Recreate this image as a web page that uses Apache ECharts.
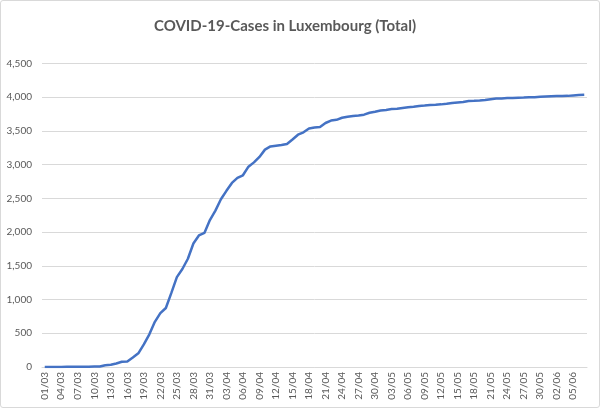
<!DOCTYPE html>
<html>
<head>
<meta charset="utf-8">
<script src="https://cdn.jsdelivr.net/npm/echarts@6/dist/echarts.min.js"></script>
<style>
  html, body { margin: 0; padding: 0; background: #fff; }
  #chart { width: 598px; height: 406px; border: 1px solid #d9d9d9; border-radius: 3px; }
</style>
</head>
<body>
<div id="chart"></div>
<script>
// Daily dates 01/03 .. 07/06 (one per category)
const MONTHS = [['03', 31], ['04', 30], ['05', 31], ['06', 7]];
const dates = [];
MONTHS.forEach(([m, n]) => {
  for (let d = 1; d <= n; d++) dates.push(String(d).padStart(2, '0') + '/' + m);
});

// Cumulative cases
const casesMar = [1, 1, 1, 1, 2, 2, 3, 3, 5, 7, 7, 26, 34, 51, 77, 81,
  140, 203, 335, 484, 670, 798, 875, 1099, 1333, 1453, 1605, 1831, 1950, 1988, 2178];
const casesApr = [2319, 2487, 2612, 2729, 2804, 2843, 2970, 3034, 3115, 3223,
  3270, 3281, 3292, 3307, 3373, 3444, 3480, 3537, 3550, 3558,
  3618, 3654, 3665, 3695, 3711, 3723, 3729, 3741, 3769, 3784];
const casesMay = [3802, 3812, 3824, 3828, 3840, 3851, 3859, 3871, 3877, 3886,
  3888, 3894, 3904, 3915, 3923, 3930, 3945, 3947, 3952, 3958,
  3971, 3980, 3981, 3988, 3990, 3993, 3995, 4000, 4001, 4008, 4012];
const casesJun = [4016, 4018, 4019, 4020, 4027, 4032, 4035];
const cases = casesMar.concat(casesApr, casesMay, casesJun);

const TXT = '#595959';
const GRID = '#d9d9d9';

const chart = echarts.init(document.getElementById('chart'));
chart.setOption({
  animation: false,
  title: {
    text: 'COVID-19-Cases in Luxembourg (Total)',
    left: 279, top: 13, textAlign: 'center',
    textStyle: { fontFamily: 'Lato', fontWeight: 'bold', fontSize: 15, color: TXT },
  },
  grid: { left: 41, right: 12, top: 62.5, bottom: 40 },
  xAxis: {
    type: 'category',
    data: dates,
    boundaryGap: true,
    axisLine: { lineStyle: { color: GRID } },
    axisTick: { show: false },
    axisLabel: {
      interval: 2, rotate: 90, color: TXT, fontSize: 10, fontFamily: 'Lato', margin: 5,
    },
  },
  yAxis: {
    type: 'value',
    min: 0, max: 4500, interval: 500,
    axisLine: { show: false },
    axisTick: { show: false },
    splitLine: { lineStyle: { color: GRID } },
    axisLabel: {
      color: TXT, fontSize: 10, fontFamily: 'Lato', margin: 10,
      formatter: v => v.toLocaleString('en-US'),
    },
  },
  series: [{
    type: 'line',
    data: cases,
    showSymbol: false,
    lineStyle: { color: '#4472C4', width: 2.5 },
  }],
});
</script>
</body>
</html>
